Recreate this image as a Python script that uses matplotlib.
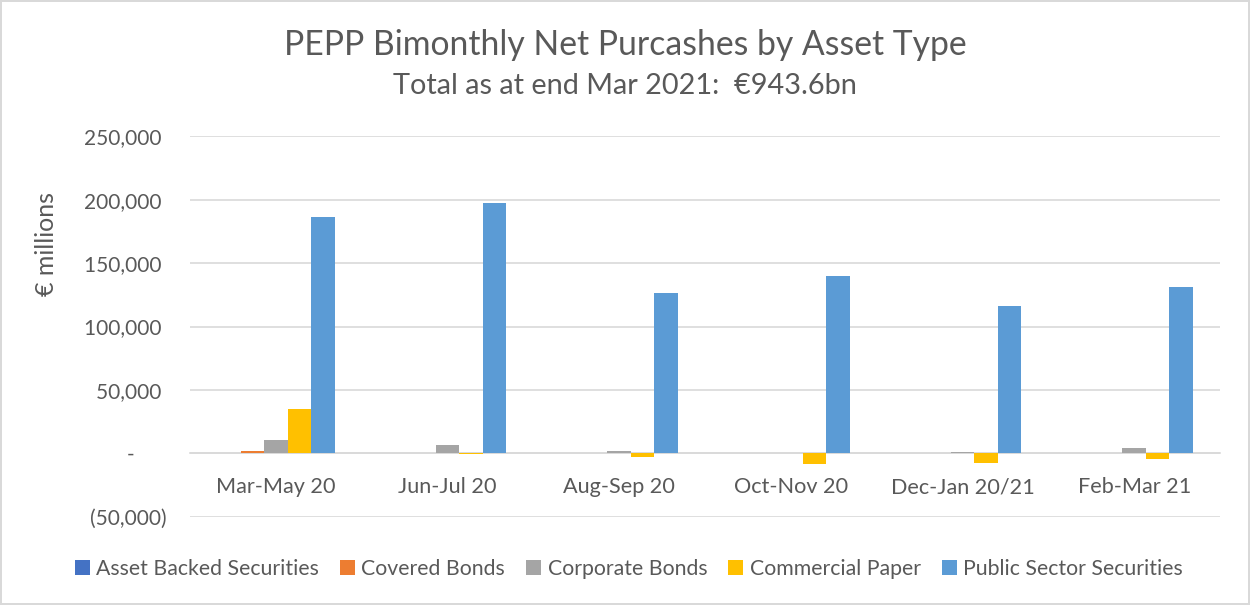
import numpy as np
from matplotlib import pyplot as plt
from matplotlib.ticker import FuncFormatter

plt.rcParams['font.family'] = ['Lato', 'DejaVu Sans']

categories = ["Mar-May 20", "Jun-Jul 20", "Aug-Sep 20", "Oct-Nov 20", "Dec-Jan 20/21", "Feb-Mar 21"]
asset_backed = [200, 100, 100, 100, 100, 100]
covered = [1600, 600, 200, 100, 200, 400]
corporate = [10300, 6900, 2200, 300, 1200, 4300]
commercial = [35000, -300, -3000, -8200, -7700, -4200]
public = [186200, 197700, 126200, 139800, 116100, 131400]

series = [
    ("Asset Backed Securities", asset_backed, "#4472C4"),
    ("Covered Bonds", covered, "#ED7D31"),
    ("Corporate Bonds", corporate, "#A5A5A5"),
    ("Commercial Paper", commercial, "#FFC000"),
    ("Public Sector Securities", public, "#5B9BD5"),
]

text_color = "#595959"

fig = plt.figure(figsize=(12.5, 6.05), dpi=100)
fig.patch.set_edgecolor("#d9d9d9")
fig.patch.set_linewidth(1.5)
ax = fig.add_axes([0.152, 0.1455, 0.824, 0.6295])

x = np.arange(len(categories))
w = 0.137
for i, (name, vals, color) in enumerate(series):
    ax.bar(x + (i - 2) * w, vals, width=w, color=color, label=name, zorder=3)

ax.set_xlim(-0.5, len(categories) - 0.5)
ax.set_ylim(-50000, 250000)
ax.set_yticks(range(-50000, 250001, 50000))


def fmt(v, pos):
    if v == 0:
        return "-      "
    if v < 0:
        return "({:,.0f})".format(-v)
    return "{:,.0f} ".format(v)


ax.yaxis.set_major_formatter(FuncFormatter(fmt))
ax.grid(axis="y", color="#d9d9d9", linewidth=1.2, zorder=0)
for s in ["top", "right", "left"]:
    ax.spines[s].set_visible(False)
ax.spines["bottom"].set_position(("data", 0))
ax.spines["bottom"].set_color("#d9d9d9")
ax.spines["bottom"].set_linewidth(1.2)
ax.set_xticks(x)
ax.set_xticklabels(categories)
ax.tick_params(axis="x", length=0, pad=17, labelsize=15.6, labelcolor=text_color)
ax.tick_params(axis="y", length=0, pad=17, labelsize=15, labelcolor=text_color)

fig.text(0.037, 0.597, "€ millions", rotation=90, ha="center", va="center",
         fontsize=18, color=text_color)
fig.text(0.5, 0.926, "PEPP Bimonthly Net Purcashes by Asset Type", ha="center",
         va="center", fontsize=24.3, color=text_color)
fig.text(0.5, 0.858, "Total as at end Mar 2021:  €943.6bn", ha="center",
         va="center", fontsize=20.8, color=text_color)

fig.legend(loc="center", bbox_to_anchor=(0.503, 0.06), ncol=5, frameon=False,
           fontsize=15.3, handlelength=0.7, handleheight=0.7, handletextpad=0.3,
           columnspacing=1.0, labelcolor=text_color)

plt.savefig("out.png", dpi=100)
